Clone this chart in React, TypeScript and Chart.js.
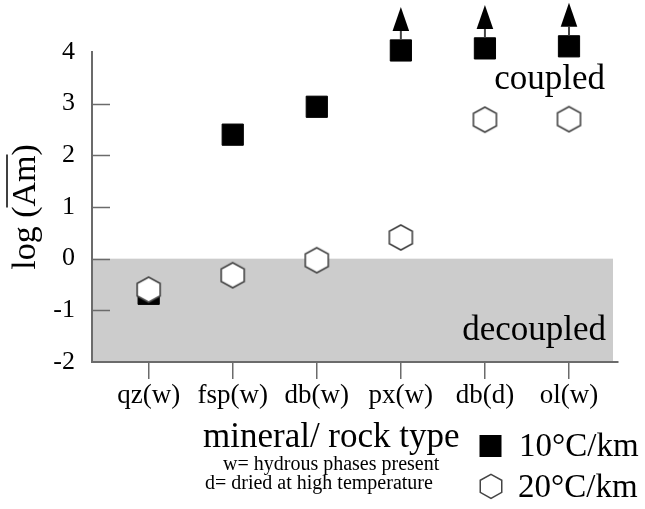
import React, { useEffect, useRef } from "react";
import { Chart, registerables } from "chart.js";

Chart.register(...registerables);

// ---- data ----
const categories = ["qz(w)", "fsp(w)", "db(w)", "px(w)", "db(d)", "ol(w)"];
const grad10 = [-0.68, 2.4, 2.94, 4.03, 4.07, 4.11];
const grad20 = [-0.6, -0.32, -0.03, 0.41, 2.69, 2.7];
const lowerBound10 = [false, false, false, true, true, true];
const yTickValues = [-2, -1, 0, 1, 2, 3, 4];
const seriesLabels = ["10°C/km", "20°C/km"];
const regionLabels = ["coupled", "decoupled"];
const xTitle = "mineral/ rock type";
const notes = ["w= hydrous phases present", "d= dried at high temperature"];
const yTitlePrefix = "log (";
const yTitleBar = "Am";
const yTitleSuffix = ")";

const SERIF = '"Liberation Serif", "Times New Roman", Times, serif';
const AXIS_GRAY = "#6b6b6b";

function makeHexagon(w: number, h: number, fill: string, stroke: string, lw: number) {
  const c = document.createElement("canvas");
  const W = Math.ceil(w + lw * 2 + 2);
  const H = Math.ceil(h + lw * 2 + 2);
  c.width = W;
  c.height = H;
  const g = c.getContext("2d")!;
  const cx = W / 2, cy = H / 2;
  const rx = w / 2, ry = h / 2;
  g.beginPath();
  for (let i = 0; i < 6; i++) {
    const a = -Math.PI / 2 + (i * Math.PI) / 3;
    const px = cx + rx * Math.cos(a) / Math.cos(Math.PI / 6);
    const py = cy + ry * Math.sin(a);
    if (i === 0) g.moveTo(px, py);
    else g.lineTo(px, py);
  }
  g.closePath();
  g.fillStyle = fill;
  g.fill();
  g.lineWidth = lw;
  g.strokeStyle = stroke;
  g.stroke();
  return c;
}

function drawHexPath(ctx: CanvasRenderingContext2D, cx: number, cy: number, w: number, h: number) {
  ctx.beginPath();
  for (let i = 0; i < 6; i++) {
    const a = -Math.PI / 2 + (i * Math.PI) / 3;
    const px = cx + (w / 2) * Math.cos(a) / Math.cos(Math.PI / 6);
    const py = cy + (h / 2) * Math.sin(a);
    if (i === 0) ctx.moveTo(px, py);
    else ctx.lineTo(px, py);
  }
  ctx.closePath();
}

const decorPlugin = {
  id: "decor",
  beforeDraw(chart: any) {
    const { ctx, chartArea, scales } = chart;
    const y = scales.y;
    const top = y.getPixelForValue(0);
    const bot = y.getPixelForValue(-2);
    ctx.save();
    ctx.fillStyle = "#cccccc";
    ctx.fillRect(chartArea.left, top, chartArea.right - chartArea.left - 5, bot - top);
    ctx.restore();
  },
  afterDatasetsDraw(chart: any) {
    const { ctx, scales } = chart;
    const xs = scales.x, ys = scales.y;
    ctx.save();
    // lower-bound arrows above squares
    lowerBound10.forEach((lb, i) => {
      if (!lb) return;
      const px = xs.getPixelForValue(i);
      const py = ys.getPixelForValue(grad10[i]);
      const sqTop = py - 11;
      const base = sqTop - 8.5;
      const tip = sqTop - 32.5;
      ctx.strokeStyle = "#444";
      ctx.lineWidth = 2;
      ctx.beginPath();
      ctx.moveTo(px, sqTop);
      ctx.lineTo(px, base);
      ctx.stroke();
      ctx.fillStyle = "#000";
      ctx.beginPath();
      ctx.moveTo(px, tip);
      ctx.lineTo(px + 8.3, base);
      ctx.lineTo(px - 8.3, base);
      ctx.closePath();
      ctx.fill();
    });
    ctx.restore();
  },
  afterDraw(chart: any) {
    const { ctx, chartArea, scales } = chart;
    const ys = scales.y;
    ctx.save();
    // inward y ticks
    ctx.strokeStyle = AXIS_GRAY;
    ctx.lineWidth = 1.5;
    yTickValues.forEach((v) => {
      if (v === -2 || v === 4) return;
      const py = Math.round(ys.getPixelForValue(v)) + 0.5;
      ctx.beginPath();
      ctx.moveTo(chartArea.left, py);
      ctx.lineTo(chartArea.left + 18, py);
      ctx.stroke();
    });

    // region labels
    ctx.fillStyle = "#000";
    ctx.font = `35px ${SERIF}`;
    ctx.textAlign = "right";
    ctx.textBaseline = "alphabetic";
    ctx.fillText(regionLabels[0], 605, 89);
    ctx.fillText(regionLabels[1], 606, 340);

    // x title and notes
    ctx.textAlign = "left";
    ctx.font = `35px ${SERIF}`;
    ctx.fillText(xTitle, 203, 447);
    ctx.font = `20px ${SERIF}`;
    ctx.fillText(notes[0], 223, 470);
    ctx.fillText(notes[1], 205, 489);

    // legend
    ctx.fillStyle = "#000";
    ctx.fillRect(479.5, 435, 22, 22);
    drawHexPath(ctx, 491, 486.3, 21.5, 24);
    ctx.fillStyle = "#fff";
    ctx.fill();
    ctx.strokeStyle = "#444";
    ctx.lineWidth = 1.5;
    ctx.stroke();
    ctx.fillStyle = "#000";
    ctx.font = `33px ${SERIF}`;
    ctx.fillText(seriesLabels[0], 519, 455.5);
    ctx.fillText(seriesLabels[1], 518, 496.5);

    // y title with overline
    ctx.translate(35, 207);
    ctx.rotate(-Math.PI / 2);
    ctx.font = `34px ${SERIF}`;
    ctx.textAlign = "left";
    const wPre = ctx.measureText(yTitlePrefix).width;
    const wBar = ctx.measureText(yTitleBar).width;
    const wSuf = ctx.measureText(yTitleSuffix).width;
    const total = wPre + wBar + wSuf;
    const x0 = -total / 2;
    ctx.fillText(yTitlePrefix, x0, 0);
    ctx.fillText(yTitleBar, x0 + wPre, 0);
    ctx.fillText(yTitleSuffix, x0 + wPre + wBar, 0);
    ctx.strokeStyle = "#000";
    ctx.lineWidth = 1.5;
    ctx.beginPath();
    ctx.moveTo(x0 + wPre - 1, -28);
    ctx.lineTo(x0 + wPre + wBar + 1, -28);
    ctx.stroke();
    ctx.restore();
  },
};

export default function App() {
  const ref = useRef<HTMLCanvasElement | null>(null);
  useEffect(() => {
    document.body.style.margin = "0";
    document.body.style.overflow = "hidden";
    const canvas = ref.current!;
    const hex = makeHexagon(23, 25, "#ffffff", "#444444", 1.6);
    const chart = new Chart(canvas, {
      type: "scatter",
      data: {
        datasets: [
          {
            label: seriesLabels[1],
            data: categories.map((_, i) => ({ x: i, y: grad20[i] })),
            pointStyle: hex as any,
            pointRadius: 12,
            clip: false,
          },
          {
            label: seriesLabels[0],
            data: categories.map((_, i) => ({ x: i, y: grad10[i] })),
            pointStyle: "rect",
            pointRadius: 15,
            backgroundColor: "#000",
            borderColor: "#000",
            borderWidth: 1,
            clip: false,
          },
        ],
      },
      options: {
        responsive: false,
        animation: false,
        layout: { padding: { left: 0, top: 52, right: 27, bottom: 0 } },
        plugins: { legend: { display: false }, tooltip: { enabled: false } },
        scales: {
          x: {
            type: "linear",
            min: -0.674,
            max: 5.583,
            afterFit: (s: any) => {
              s.height = 147;
            },
            border: { display: true, color: AXIS_GRAY, width: 2 },
            grid: { drawOnChartArea: false, drawTicks: true, tickLength: 17, color: AXIS_GRAY, lineWidth: 1.5 },
            ticks: {
              stepSize: 1,
              includeBounds: false,
              autoSkip: false,
              maxRotation: 0,
              padding: 1,
              color: "#000",
              font: { family: SERIF, size: 27 },
              callback: (v: any) => (Number.isInteger(v) && categories[v] !== undefined ? categories[v] : ""),
            },
          },
          y: {
            min: -2,
            max: 4,
            afterFit: (s: any) => {
              s.width = 92;
            },
            border: { display: true, color: AXIS_GRAY, width: 2 },
            grid: { display: false, drawTicks: false },
            ticks: {
              stepSize: 1,
              padding: 17,
              color: "#000",
              font: { family: SERIF, size: 26 },
            },
          },
        },
      },
      plugins: [decorPlugin],
    });
    return () => chart.destroy();
  }, []);
  return <canvas ref={ref} width={645} height={509} style={{ display: "block" }} />;
}
